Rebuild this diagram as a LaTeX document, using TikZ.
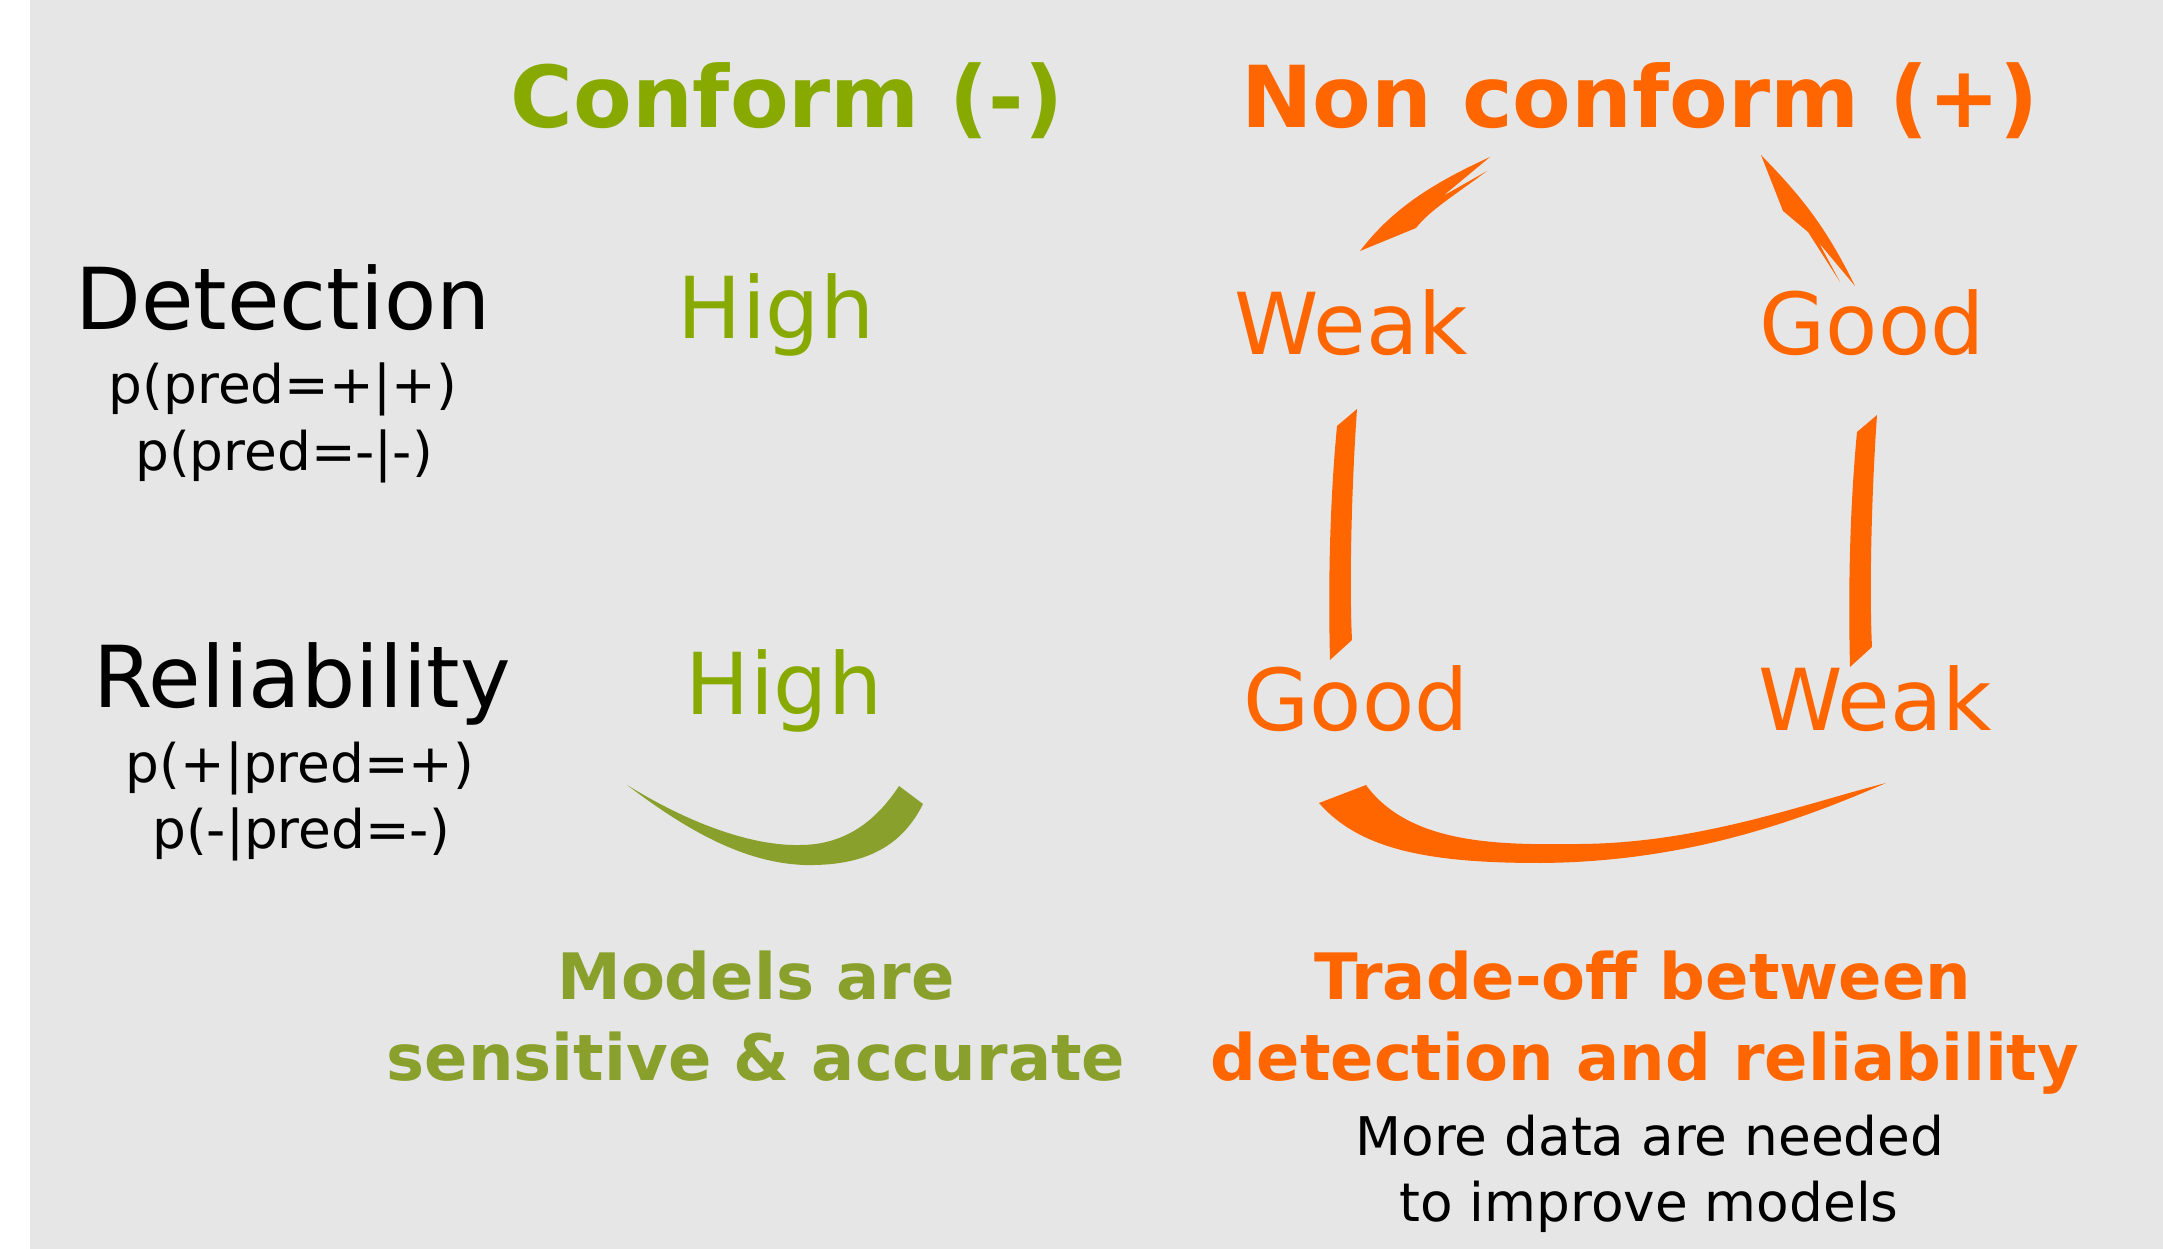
\documentclass[tikz,border=0pt]{standalone}
\usepackage{fontspec}
\setmainfont{DejaVu Sans}
\definecolor{bggray}{HTML}{E6E6E6}
\definecolor{titlegreen}{HTML}{88AA00}
\definecolor{mossgreen}{HTML}{89A02C}
\definecolor{orng}{HTML}{FF6600}
\tikzset{
  lbl/.style={anchor=base, inner sep=0pt, outer sep=0pt},
  title/.style={lbl, font=\fontsize{24.3}{28}\selectfont\bfseries},
  big/.style={lbl, font=\fontsize{24.3}{28}\selectfont},
  small/.style={lbl, font=\fontsize{15.15}{18}\selectfont},
  note/.style={lbl, font=\fontsize{18.2}{22}\selectfont\bfseries},
}
\begin{document}
\begin{tikzpicture}[x=0.01cm, y=-0.01cm]
\useasboundingbox (0,0) rectangle (2163,1249);
\fill[white] (0,0) rectangle (2163,1249);
\fill[bggray] (30,0) rectangle (2163,1249);

% column titles
\node[title, text=titlegreen] (conf) at (787,128) {Conform (-)};
\node[title, text=orng] (nonconf) at (1640,128) {Non conform (+)};

% row labels
\node[big] (det) at (283,330) {Detection};
\node[small] (det1) at (283,404) {p(pred=+|+)};
\node[small] (det2) at (284,471) {p(pred=-|-)};
\node[big] (rel) at (302,708) {Reliability};
\node[small] (rel1) at (300,782) {p(+|pred=+)};
\node[small] (rel2) at (301,848) {p(-|pred=-)};

% values
\node[big, text=titlegreen] (hightop) at (776,339) {High};
\node[big, text=titlegreen] (highbot) at (784,714) {High};
\node[big, text=orng] (weaktop) at (1351,355) {Weak};
\node[big, text=orng] (goodtop) at (1872,355) {Good};
\node[big, text=orng] (goodbot) at (1356,730) {Good};
\node[big, text=orng] (weakbot) at (1875,730) {Weak};

% conclusions
\node[note, text=mossgreen] (m1) at (756,999) {Models are};
\node[note, text=mossgreen] (m2) at (756,1080) {sensitive \& accurate};
\node[note, text=orng] (t1) at (1643,999) {Trade-off between};
\node[note, text=orng] (t2) at (1645,1080) {detection and reliability};
\node[small] (d1) at (1650,1155) {More data are needed};
\node[small] (d2) at (1649,1221) {to improve models};

% green swoosh
\fill[mossgreen] (627,785) .. controls (700,830) and (760,846) .. (800,845)
  .. controls (850,845) and (880,815) .. (899,786) -- (923,804)
  .. controls (900,850) and (860,866) .. (805,865)
  .. controls (740,863) and (680,825) .. (627,785) -- cycle;

% top-left orange swoosh
\fill[orng] (1360,251) .. controls (1395,205) and (1440,180) .. (1490,157)
  -- (1443,196) -- (1487,171)
  .. controls (1455,195) and (1430,210) .. (1416,228) -- cycle;

% top-right orange swoosh
\fill[orng] (1761,155) .. controls (1800,195) and (1825,225) .. (1855,286)
  -- (1819,243) -- (1840,282) -- (1808,232) -- (1783,211) -- cycle;

% vertical swooshes
\fill[orng] (1337,426) -- (1357,409) .. controls (1352,480) and (1349,580) .. (1352,640)
  -- (1330,660) .. controls (1328,580) and (1330,500) .. (1337,426) -- cycle;
\fill[orng] (1857,432) -- (1877,415) .. controls (1872,486) and (1869,586) .. (1872,647)
  -- (1850,667) .. controls (1848,586) and (1850,506) .. (1857,432) -- cycle;

% bottom orange swoosh
\fill[orng] (1319,803) -- (1366,785) .. controls (1410,845) and (1500,845) .. (1580,844)
  .. controls (1700,843) and (1800,805) .. (1886,783)
  .. controls (1790,825) and (1680,862) .. (1540,863)
  .. controls (1430,863) and (1360,850) .. (1319,803) -- cycle;
\end{tikzpicture}
\end{document}
